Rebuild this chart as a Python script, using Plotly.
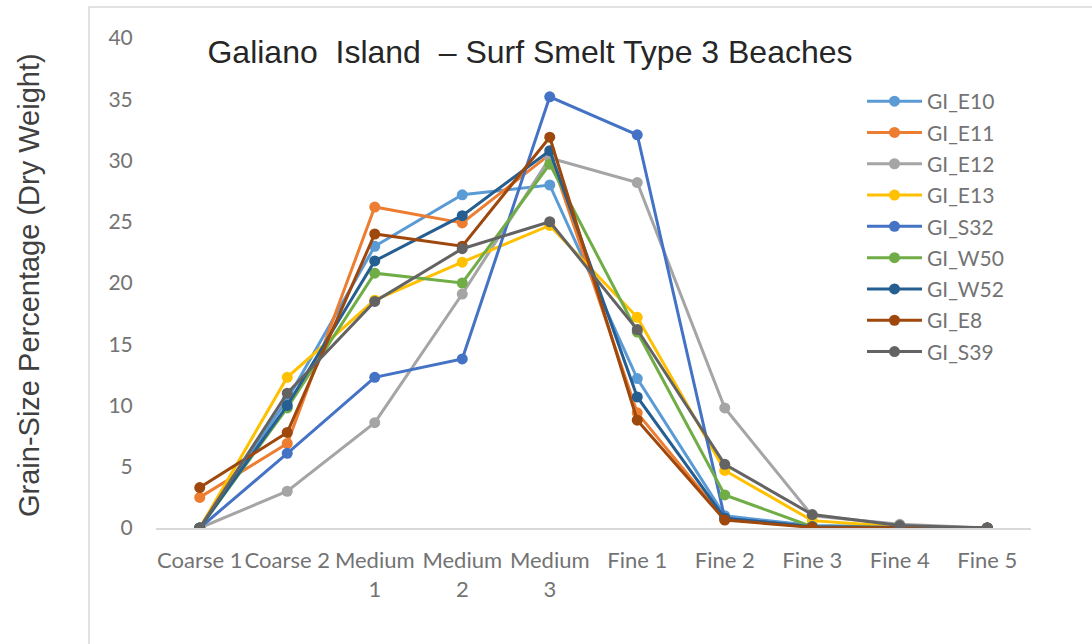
import plotly.graph_objects as go

categories = ["Coarse 1", "Coarse 2", "Medium<br>1", "Medium<br>2", "Medium<br>3",
              "Fine 1", "Fine 2", "Fine 3", "Fine 4", "Fine 5"]

series_names = ["GI_E10", "GI_E11", "GI_E12", "GI_E13", "GI_S32",
                "GI_W50", "GI_W52", "GI_E8", "GI_S39"]

GI_E10 = [0, 10.5, 23.0, 27.2, 28.0, 12.2, 1.0, 0.2, 0.1, 0]
GI_E11 = [2.5, 6.9, 26.2, 24.9, 30.5, 9.4, 0.7, 0.1, 0.05, 0]
GI_E12 = [0, 3.0, 8.6, 19.1, 30.2, 28.2, 9.8, 1.0, 0.3, 0]
GI_E13 = [0, 12.3, 18.6, 21.7, 24.7, 17.2, 4.7, 0.6, 0.1, 0]
GI_S32 = [0, 6.1, 12.3, 13.8, 35.2, 32.1, 0.8, 0.1, 0.05, 0]
GI_W50 = [0, 9.8, 20.8, 20.0, 29.7, 16.0, 2.7, 0.1, 0.05, 0]
GI_W52 = [0, 10.0, 21.8, 25.5, 30.8, 10.7, 0.8, 0.1, 0.05, 0]
GI_E8 = [3.3, 7.8, 24.0, 23.0, 31.9, 8.8, 0.65, 0.05, 0.02, 0]
GI_S39 = [0, 11.0, 18.5, 22.8, 25.0, 16.2, 5.2, 1.1, 0.2, 0]

series_values = [GI_E10, GI_E11, GI_E12, GI_E13, GI_S32, GI_W50, GI_W52, GI_E8, GI_S39]
colors = ["#5B9BD5", "#ED7D31", "#A5A5A5", "#FFC000", "#4472C4",
          "#70AD47", "#255E91", "#9E480E", "#636363"]

y_ticks = [0, 5, 10, 15, 20, 25, 30, 35, 40]

L, R, T, B = 156, 61, 38, 116
PW = 1092 - L - R
PH = 644 - T - B

fig = go.Figure()
for name, vals, col in zip(series_names, series_values, colors):
    fig.add_trace(go.Scatter(
        x=categories, y=vals, name=name, mode="lines+markers",
        line=dict(color=col, width=3),
        marker=dict(color=col, size=11),
        legendgroup=name,
    ))

tick_font = dict(family="Lato, Carlito, sans-serif", size=21, color="#737373")
xtick_font = dict(family="Lato, Carlito, sans-serif", size=22, color="#737373")

fig.update_layout(
    width=1092, height=644,
    margin=dict(l=L, r=R, t=T, b=B, autoexpand=False),
    paper_bgcolor="white", plot_bgcolor="white",
    title=dict(text="Galiano  Island  \u2013 Surf Smelt Type 3 Beaches",
               x=530 / 1092, xanchor="center", y=1 - 52 / 644, yanchor="middle",
               font=dict(family="Liberation Sans, Arial, sans-serif", size=32, color="#262626")),
    xaxis=dict(
        type="category", range=[-0.5, 9.5], showgrid=False, showline=True,
        linecolor="#d9d9d9", linewidth=1.5,
        ticks="outside", ticklen=12, tickcolor="rgba(0,0,0,0)",
        tickfont=xtick_font, zeroline=False, automargin=False,
    ),
    yaxis=dict(
        range=[0, 40], tickvals=y_ticks, showgrid=False, showline=False, zeroline=False,
        ticks="outside", ticklen=18, tickcolor="rgba(0,0,0,0)",
        tickfont=tick_font, automargin=False,
    ),
    legend=dict(
        x=(862 - L) / PW, y=(528 - 81) / PH, xanchor="left", yanchor="top",
        font=tick_font, tracegroupgap=1, bgcolor="rgba(0,0,0,0)", itemwidth=55,
    ),
    annotations=[dict(
        text="Grain-Size Percentage (Dry Weight)", textangle=-90,
        xref="paper", yref="paper", x=(29 - L) / PW, y=(528 - 285) / PH,
        xanchor="center", yanchor="middle", showarrow=False,
        font=dict(family="Liberation Sans, Arial, sans-serif", size=29, color="#404040"),
    )],
    shapes=[dict(type="rect", xref="paper", yref="paper",
                 x0=(89 - L) / PW, x1=1.3, y0=-0.5, y1=(528 - 7) / PH,
                 line=dict(color="#d9d9d9", width=1.5), layer="below")],
    showlegend=True,
)

fig.write_html("out.html", config={"displayModeBar": False},
               post_script="document.body.style.margin='0';")
